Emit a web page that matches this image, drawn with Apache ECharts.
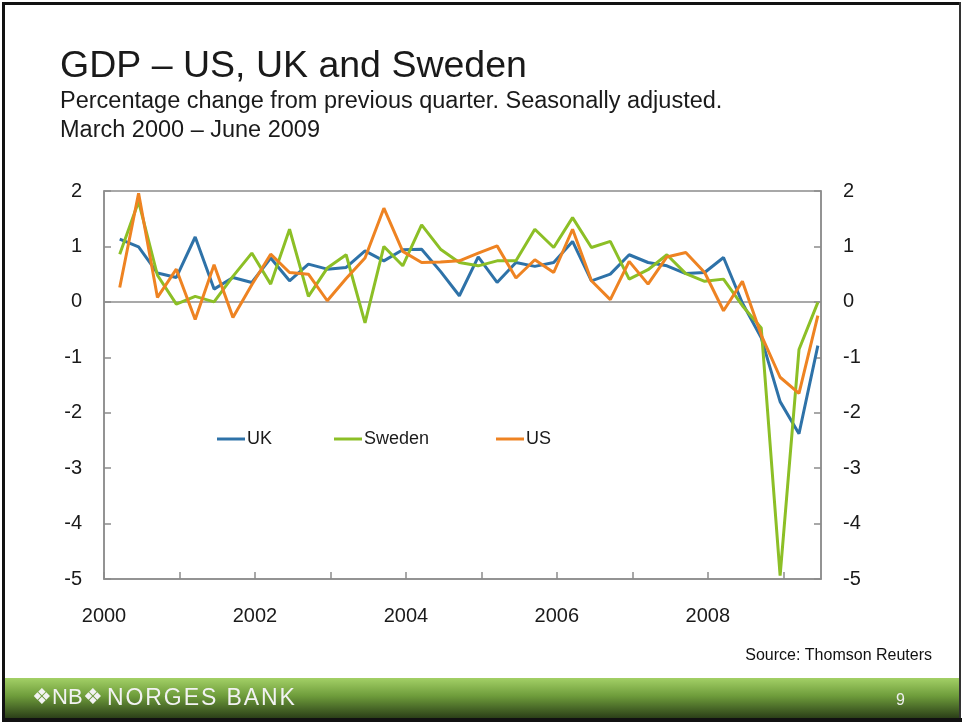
<!DOCTYPE html>
<html>
<head>
<meta charset="utf-8">
<script src="https://cdn.jsdelivr.net/npm/echarts@6/dist/echarts.min.js"></script>
<style>
  html, body { margin: 0; padding: 0; background: #fff; }
  #chart { width: 962px; height: 722px; }
</style>
</head>
<body>
<div id="chart"></div>
<script>
// quarterly GDP, % change from previous quarter, Q1 2000 - Q2 2009
var firstYear = 2000;
var quarterMonths = [3, 6, 9, 12];

var ukData = [1.13, 0.99, 0.52, 0.44, 1.17, 0.23, 0.44, 0.35, 0.79, 0.38,
    0.68, 0.59, 0.62, 0.92, 0.74, 0.94, 0.95, 0.55, 0.11, 0.81,
    0.35, 0.71, 0.64, 0.71, 1.09, 0.38, 0.50, 0.85, 0.71, 0.65,
    0.51, 0.53, 0.80, -0.02, -0.65, -1.80, -2.38, -0.79];

var swedenData = [0.86, 1.81, 0.48, -0.04, 0.10, 0.00, 0.46, 0.88, 0.32, 1.31,
    0.10, 0.61, 0.85, -0.38, 1.00, 0.65, 1.39, 0.95, 0.71, 0.65,
    0.74, 0.74, 1.31, 0.98, 1.52, 0.98, 1.09, 0.41, 0.58, 0.85,
    0.51, 0.37, 0.41, -0.07, -0.47, -4.94, -0.86, -0.01];

var usData = [0.26, 1.96, 0.08, 0.59, -0.32, 0.67, -0.28, 0.31, 0.86, 0.53,
    0.50, 0.02, 0.42, 0.79, 1.69, 0.91, 0.71, 0.72, 0.74, 0.88,
    1.01, 0.43, 0.76, 0.53, 1.31, 0.38, 0.04, 0.73, 0.32, 0.81,
    0.89, 0.53, -0.16, 0.37, -0.60, -1.36, -1.65, -0.25];

var yTicks = [-5, -4, -3, -2, -1, 0, 1, 2];
var xLabelYears = [2000, 2002, 2004, 2006, 2008];

// place each quarter at the middle of its last month
function toSeries(values) {
    return values.map(function (v, i) {
        var year = firstYear + Math.floor(i / 4);
        var month = quarterMonths[i % 4];
        return [year + (month - 0.5) / 12, v];
    });
}

var font = 'Liberation Sans';
var axisColor = '#8c8c8c';
var labelStyle = { color: '#1a1a1a', fontSize: 20, fontFamily: font };

function yAxisFor(pos) {
    return {
        type: 'value',
        position: pos,
        min: yTicks[0],
        max: yTicks[yTicks.length - 1],
        interval: 1,
        axisLine: { show: true, lineStyle: { color: axisColor, width: 1.5 } },
        axisTick: { show: true, inside: true, length: 7, lineStyle: { color: axisColor, width: 1.5 } },
        splitLine: { show: false },
        axisLabel: Object.assign({ margin: 22 }, labelStyle)
    };
}

function lineSeries(name, data, color) {
    return {
        name: name,
        type: 'line',
        data: toSeries(data),
        symbol: 'none',
        lineStyle: { color: color, width: 3 },
        itemStyle: { color: color },
        z: 3
    };
}

function legendFor(name, left) {
    return {
        data: [name],
        left: left,
        top: 430,
        padding: 0,
        icon: 'rect',
        itemWidth: 28,
        itemHeight: 3,
        textStyle: { color: '#1a1a1a', fontSize: 18, fontFamily: font, padding: [0, 0, 0, -3] }
    };
}

var chart = echarts.init(document.getElementById('chart'));

var option = {
    backgroundColor: '#fff',
    animation: false,
    title: [{
        text: 'GDP – US, UK and Sweden',
        left: 55,
        top: 43,
        textStyle: { color: '#1a1a1a', fontSize: 37.5, fontWeight: 'normal', fontFamily: font }
    }, {
        text: 'Percentage change from previous quarter. Seasonally adjusted.\nMarch 2000 – June 2009',
        left: 55,
        top: 82,
        textStyle: { color: '#1a1a1a', fontSize: 23.5, fontWeight: 'normal', fontFamily: font, lineHeight: 29 }
    }],
    legend: [legendFor('UK', 217), legendFor('Sweden', 334), legendFor('US', 496)],
    grid: {
        left: 104,
        top: 191,
        right: 141,
        bottom: 143,
        show: true,
        borderColor: axisColor,
        borderWidth: 1.5
    },
    xAxis: {
        type: 'value',
        min: 2000,
        max: 2009.5,
        interval: 1,
        axisLine: { show: true, onZero: false, lineStyle: { color: axisColor, width: 1.5 } },
        axisTick: { show: true, inside: true, length: 7, lineStyle: { color: axisColor, width: 1.5 } },
        splitLine: { show: false },
        axisLabel: Object.assign({
            margin: 27,
            showMaxLabel: false,
            formatter: function (v) {
                return xLabelYears.indexOf(v) >= 0 ? String(v) : '';
            }
        }, labelStyle)
    },
    yAxis: [yAxisFor('left'), yAxisFor('right')],
    series: [
        Object.assign(lineSeries('UK', ukData, '#2e72a8'), {
            markLine: {
                silent: true,
                symbol: 'none',
                label: { show: false },
                lineStyle: { color: axisColor, width: 1.5, type: 'solid' },
                data: [{ yAxis: 0 }],
                z: 1
            }
        }),
        lineSeries('Sweden', swedenData, '#8cbf26'),
        lineSeries('US', usData, '#ee8322')
    ],
    graphic: [
        {
            type: 'text',
            right: 30,
            top: 648,
            style: { text: 'Source: Thomson Reuters', fill: '#111', fontSize: 16, fontFamily: font }
        },
        {
            type: 'rect',
            left: 5,
            top: 678,
            shape: { width: 954, height: 40 },
            style: {
                fill: new echarts.graphic.LinearGradient(0, 0, 0, 1, [
                    { offset: 0, color: '#a3d066' },
                    { offset: 0.45, color: '#6e9c3b' },
                    { offset: 1, color: '#2b3f18' }
                ])
            }
        },
        {
            type: 'text',
            left: 32,
            top: 687,
            style: { text: '❖NB❖', fill: '#f2f2f2', fontSize: 22, fontFamily: font }
        },
        {
            type: 'text',
            left: 107,
            top: 687,
            // hair spaces widen the letter spacing of the logo text
            style: { text: 'NORGES BANK'.split('').join('\u200A'), fill: '#f2f2f2', fontSize: 23, fontFamily: font }
        },
        {
            type: 'text',
            left: 896,
            top: 693,
            style: { text: '9', fill: '#eee', fontSize: 16, fontFamily: font }
        },
        // slide frame
        { type: 'rect', left: 2, top: 2, shape: { width: 958, height: 3 }, style: { fill: '#111' }, silent: true },
        { type: 'rect', left: 2, top: 2, shape: { width: 3, height: 720 }, style: { fill: '#111' }, silent: true },
        { type: 'rect', left: 959, top: 2, shape: { width: 2, height: 720 }, style: { fill: '#333' }, silent: true },
        { type: 'rect', left: 2, top: 718, shape: { width: 960, height: 4 }, style: { fill: '#111' }, silent: true }
    ]
};

chart.setOption(option);
</script>
</body>
</html>
